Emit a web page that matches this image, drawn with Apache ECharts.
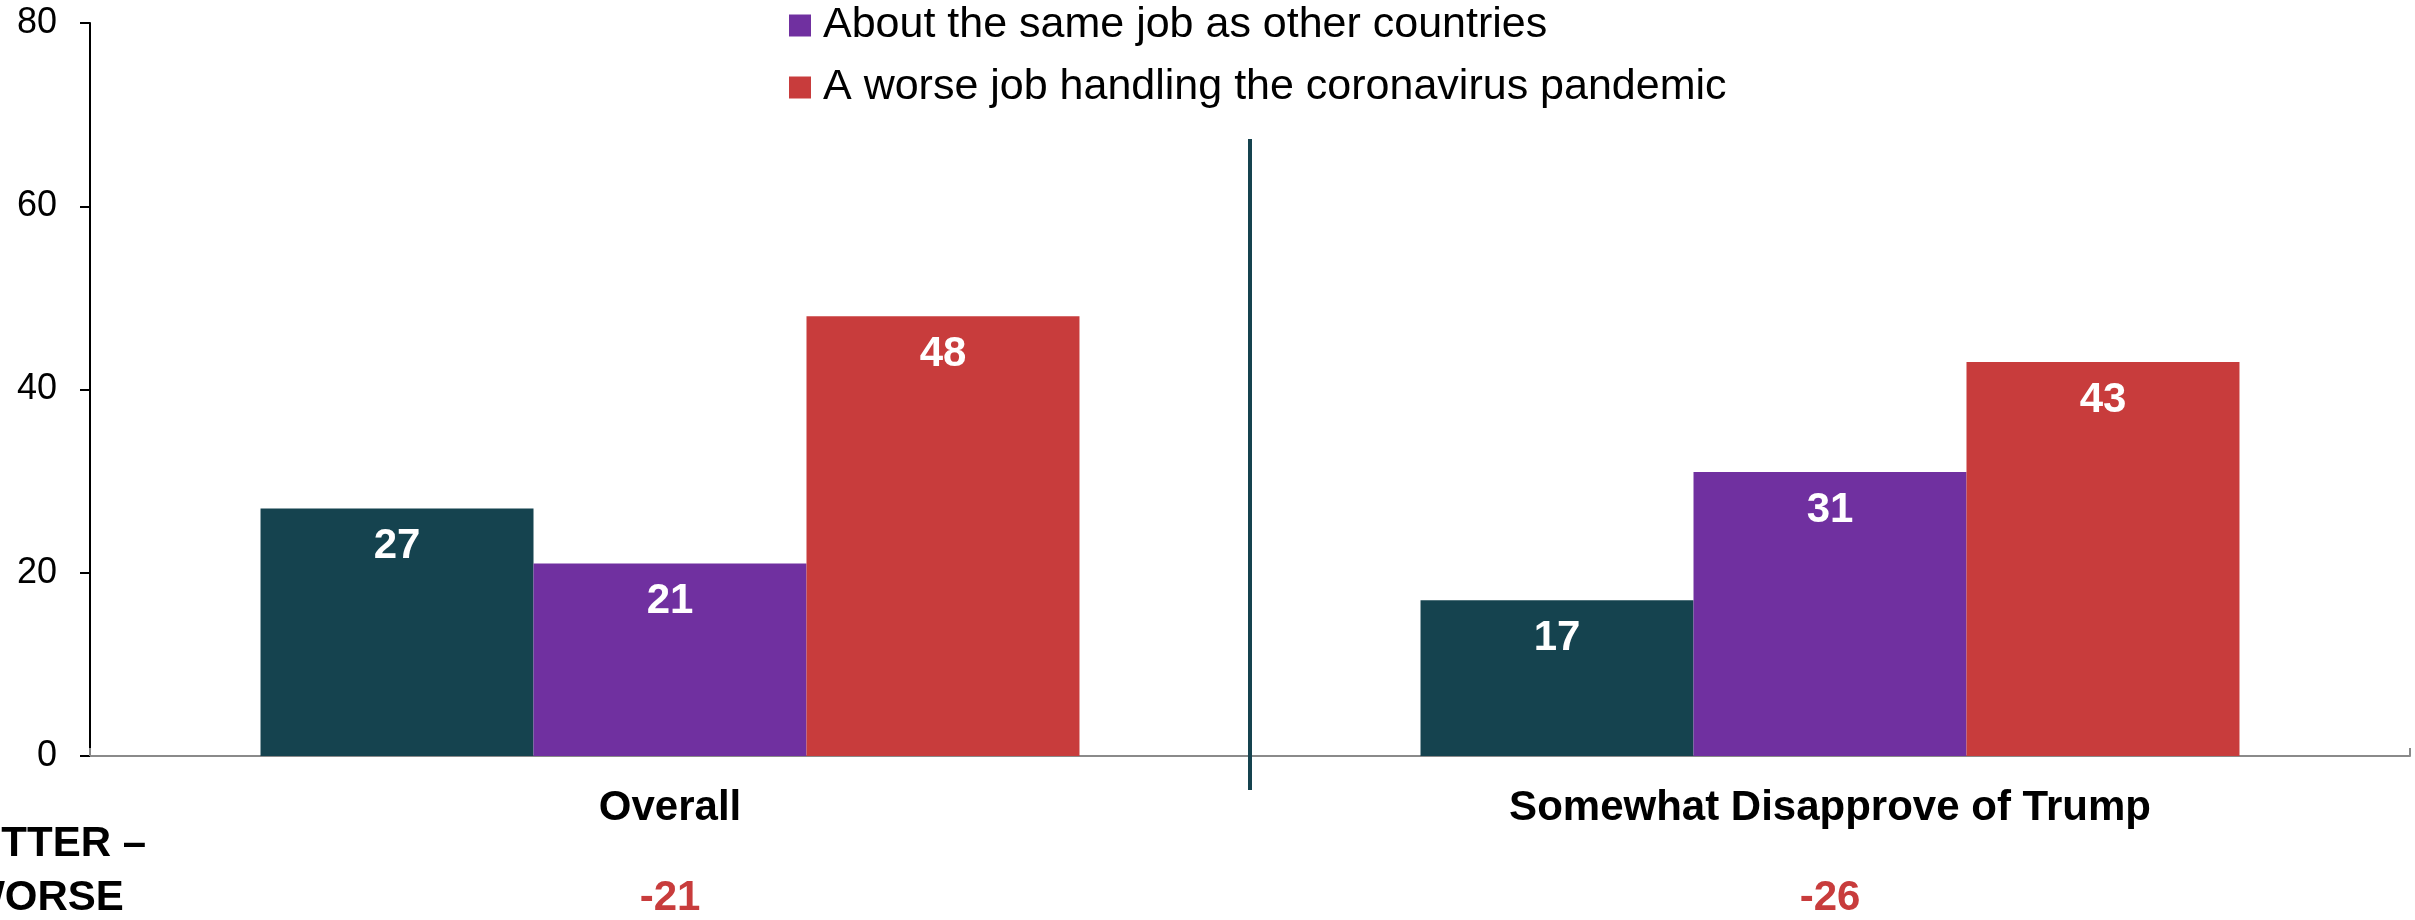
<!DOCTYPE html>
<html>
<head>
<meta charset="utf-8">
<script src="https://cdn.jsdelivr.net/npm/echarts@6/dist/echarts.min.js"></script>
<style>
html,body{margin:0;padding:0;background:#fff;}
#chart{width:2415px;height:920px;}
</style>
</head>
<body>
<div id="chart"></div>
<script>
const categories = ['Overall', 'Somewhat Disapprove of Trump'];
const seriesNames = [
  'A better job handling the coronavirus pandemic',
  'About the same job as other countries',
  'A worse job handling the coronavirus pandemic'
];
const betterValues = [27, 17];
const sameValues = [21, 31];
const worseValues = [48, 43];
const netDiff = ['-21', '-26'];
const yTicks = [0, 20, 40, 60, 80];

const colors = ['#15434F', '#7030A0', '#C83C3C'];
const FONT = '"Liberation Sans", Arial, sans-serif';

const chart = echarts.init(document.getElementById('chart'));

function barSeries(name, data, color) {
  return {
    name: name,
    type: 'bar',
    data: data,
    barGap: '0%',
    barCategoryGap: '29.4%',
    itemStyle: { color: color },
    label: {
      show: true,
      position: 'insideTop',
      distance: 17,
      color: '#fff',
      fontFamily: FONT,
      fontWeight: 'bold',
      fontSize: 42
    }
  };
}

const option = {
  animation: false,
  backgroundColor: '#fff',
  grid: { left: 90, right: 5, top: 23, bottom: 164, containLabel: false },
  legend: {
    data: [seriesNames[1], seriesNames[2]],
    orient: 'vertical',
    left: 789,
    top: 4,
    padding: 0,
    itemWidth: 22,
    itemHeight: 22,
    itemGap: 19,
    icon: 'rect',
    textStyle: { fontFamily: FONT, fontSize: 43, color: '#000', lineHeight: 43, padding: [0, 0, 0, 7] }
  },
  xAxis: {
    type: 'category',
    data: categories,
    axisLine: { lineStyle: { color: '#8a8a8a', width: 2 } },
    axisTick: { show: true, inside: true, length: 8, lineStyle: { color: '#8a8a8a', width: 2 } },
    axisLabel: {
      margin: 28,
      interval: 0,
      formatter: function (v, i) {
        return '{a|' + v + '}\n{b|' + netDiff[i] + '}';
      },
      rich: {
        a: { fontFamily: FONT, fontWeight: 'bold', fontSize: 42, color: '#000', lineHeight: 48 },
        b: { fontFamily: FONT, fontWeight: 'bold', fontSize: 42, color: '#C83C3C', lineHeight: 132 }
      }
    },
    splitLine: { show: false }
  },
  yAxis: {
    type: 'value',
    min: yTicks[0],
    max: yTicks[yTicks.length - 1],
    interval: 20,
    axisLine: { show: true, lineStyle: { color: '#000', width: 2 } },
    axisTick: { show: true, length: 10, lineStyle: { color: '#000', width: 2 } },
    axisLabel: { fontFamily: FONT, fontSize: 36, color: '#000', margin: 33 },
    splitLine: { show: false }
  },
  series: [
    barSeries(seriesNames[0], betterValues, colors[0]),
    barSeries(seriesNames[1], sameValues, colors[1]),
    barSeries(seriesNames[2], worseValues, colors[2])
  ]
};
chart.setOption(option);

// separator between groups and left-side note
const x0 = chart.convertToPixel({ xAxisIndex: 0 }, 0);
const x1 = chart.convertToPixel({ xAxisIndex: 0 }, 1);
const sepX = (x0 + x1) / 2;
chart.setOption({
  graphic: [
    {
      type: 'line',
      shape: { x1: sepX, y1: 139, x2: sepX, y2: 790 },
      style: { stroke: colors[0], lineWidth: 4 },
      z: 10
    },
    {
      type: 'text',
      left: -57,
      top: 817,
      style: {
        text: 'BETTER –\nWORSE',
        fontFamily: FONT,
        fontWeight: 'bold',
        fontSize: 42,
        lineHeight: 54,
        fill: '#000',
        textAlign: 'center'
      }
    }
  ]
});
</script>
</body>
</html>
